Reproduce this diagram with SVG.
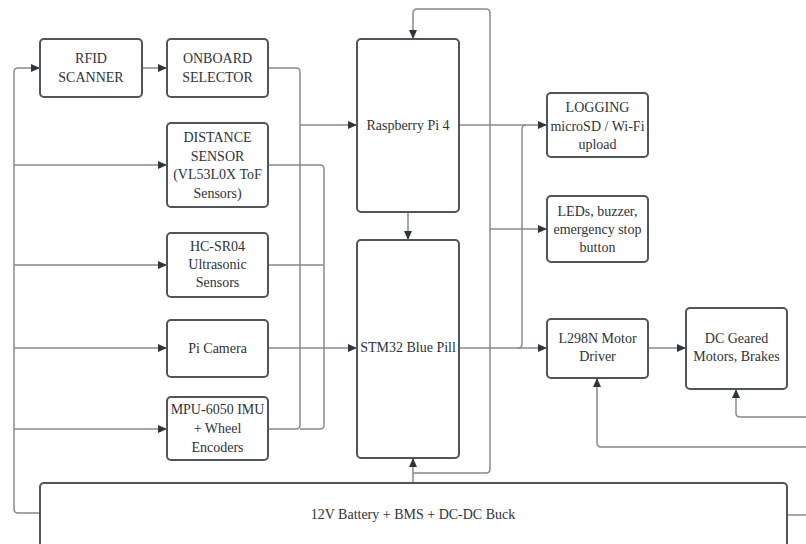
<svg xmlns="http://www.w3.org/2000/svg" width="806" height="544" viewBox="0 0 806 544">
<style>
.n rect{fill:#ffffff;stroke:#50555c;stroke-width:2}
.n text{font-family:"Liberation Serif","Times New Roman",serif;font-size:14px;fill:#2e3338;text-anchor:middle}
.c path{fill:none;stroke:#858b93;stroke-width:1.5}
.c path.a{marker-end:url(#ah)}
</style>
<defs>
<marker id="ah" markerUnits="userSpaceOnUse" markerWidth="9" markerHeight="8" refX="9" refY="4" orient="auto">
<path d="M0,0 L9,4 L0,8 z" fill="#2f353d"/>
</marker>
</defs>
<rect width="806" height="544" fill="#ffffff"/>
<g class="c" id="connectors">
<path d="M40,513 H18 Q14,513 14,509 V72 Q14,68 18,68 H40" class="a"/>
<path d="M14,165 H167" class="a"/>
<path d="M14,265 H167" class="a"/>
<path d="M14,348 H167" class="a"/>
<path d="M14,429 H167" class="a"/>
<path d="M142,68 H167" class="a"/>
<path d="M268,68 H296 Q300,68 300,72 V425 Q300,429 296,429 H268"/>
<path d="M300,125 H357" class="a"/>
<path d="M268,165 H320 Q324,165 324,169 V425 Q324,429 320,429 H300"/>
<path d="M268,265 H324"/>
<path d="M268,348 H357" class="a"/>
<path d="M408,212 V240" class="a"/>
<path d="M413,483 V458" class="a"/>
<path d="M413,473 H486 Q490,473 490,469 V13 Q490,9 486,9 H417 Q413,9 413,13 V39" class="a"/>
<path d="M490,229 H547" class="a"/>
<path d="M459,125 H547" class="a"/>
<path d="M459,348 H547" class="a"/>
<path d="M518,348 Q522,348 522,344 V129 Q522,125 526,125"/>
<path d="M648,348 H686" class="a"/>
<path d="M806,447 H601 Q597,447 597,443 V378" class="a"/>
<path d="M806,417 H740 Q736,417 736,413 V389" class="a"/>
<path d="M787,515 H806"/>
</g>
<g class="n" id="rfid">
<rect x="40" y="39" width="102" height="58" rx="4"/>
<text x="91" y="63">RFID</text>
<text x="91" y="82">SCANNER</text>
</g>
<g class="n" id="onboard">
<rect x="167" y="39" width="101" height="58" rx="4"/>
<text x="217.5" y="63">ONBOARD</text>
<text x="217.5" y="82">SELECTOR</text>
</g>
<g class="n" id="distance">
<rect x="167" y="123" width="101" height="84" rx="4"/>
<text x="217.5" y="142">DISTANCE</text>
<text x="217.5" y="160.5">SENSOR</text>
<text x="217.5" y="179">(VL53L0X ToF</text>
<text x="217.5" y="197.5">Sensors)</text>
</g>
<g class="n" id="hcsr04">
<rect x="167" y="233" width="101" height="64" rx="4"/>
<text x="217.5" y="251">HC-SR04</text>
<text x="217.5" y="269">Ultrasonic</text>
<text x="217.5" y="287">Sensors</text>
</g>
<g class="n" id="picamera">
<rect x="167" y="320" width="101" height="57" rx="4"/>
<text x="217.5" y="353">Pi Camera</text>
</g>
<g class="n" id="mpu">
<rect x="167" y="397" width="101" height="63" rx="4"/>
<text x="217.5" y="414">MPU-6050 IMU</text>
<text x="217.5" y="433">+ Wheel</text>
<text x="217.5" y="452">Encoders</text>
</g>
<g class="n" id="rpi">
<rect x="357" y="39" width="102" height="173" rx="4"/>
<text x="408" y="130">Raspberry Pi 4</text>
</g>
<g class="n" id="stm32">
<rect x="357" y="240" width="102" height="218" rx="4"/>
<text x="408" y="352">STM32 Blue Pill</text>
</g>
<g class="n" id="logging">
<rect x="547" y="93" width="101" height="64" rx="4"/>
<text x="597.5" y="112">LOGGING</text>
<text x="597.5" y="130.5">microSD / Wi-Fi</text>
<text x="597.5" y="149">upload</text>
</g>
<g class="n" id="leds">
<rect x="547" y="196" width="101" height="66" rx="4"/>
<text x="597.5" y="216">LEDs, buzzer,</text>
<text x="597.5" y="234">emergency stop</text>
<text x="597.5" y="252">button</text>
</g>
<g class="n" id="l298n">
<rect x="547" y="319" width="101" height="59" rx="4"/>
<text x="597.5" y="343">L298N Motor</text>
<text x="597.5" y="361">Driver</text>
</g>
<g class="n" id="motors">
<rect x="686" y="308" width="101" height="81" rx="4"/>
<text x="736.5" y="343">DC Geared</text>
<text x="736.5" y="361">Motors, Brakes</text>
</g>
<g class="n" id="battery">
<rect x="40" y="483" width="747" height="85" rx="4"/>
<text x="413" y="519">12V Battery + BMS + DC-DC Buck</text>
</g>
</svg>
